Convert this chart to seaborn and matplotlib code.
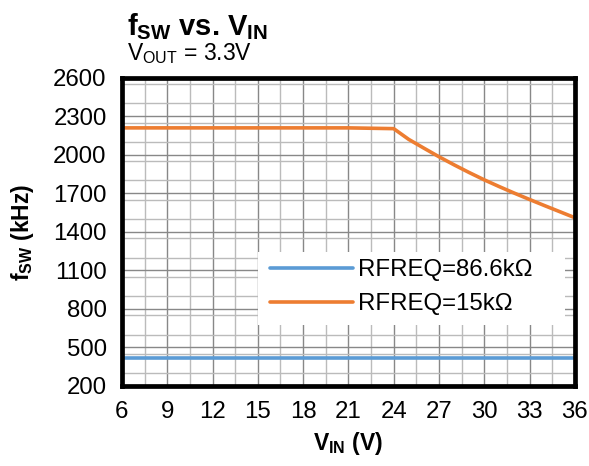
import matplotlib
matplotlib.use("Agg")
import matplotlib.pyplot as plt
from matplotlib.ticker import MultipleLocator
from matplotlib.patches import Rectangle
import seaborn as sns
import pandas as pd

# data
vin_flat = [6, 36]
fsw_86k6 = [415, 415]

vin_15k = [6, 9, 12, 15, 18, 21, 22, 23, 24, 25, 26, 27, 28, 29, 30, 31, 32, 33, 34, 35, 36]
fsw_15k = [2210, 2210, 2210, 2210, 2210, 2210, 2208, 2206, 2204, 2120, 2052, 1985, 1922,
           1862, 1805, 1752, 1701, 1652, 1604, 1557, 1510]

x_ticks = [6, 9, 12, 15, 18, 21, 24, 27, 30, 33, 36]
y_ticks = [200, 500, 800, 1100, 1400, 1700, 2000, 2300, 2600]

labels = ["RFREQ=86.6kΩ", "RFREQ=15kΩ"]
colors = ["#5B9BD5", "#ED7D31"]

df = pd.concat([
    pd.DataFrame({"vin": vin_flat, "fsw": fsw_86k6, "curve": labels[0]}),
    pd.DataFrame({"vin": vin_15k, "fsw": fsw_15k, "curve": labels[1]}),
])

sns.set_theme(style="white")
plt.rcParams["font.family"] = ["Liberation Sans", "DejaVu Sans"]
plt.rcParams["mathtext.fontset"] = "custom"
plt.rcParams["mathtext.rm"] = "Liberation Sans"
plt.rcParams["mathtext.it"] = "Liberation Sans"
plt.rcParams["mathtext.bf"] = "Liberation Sans:bold"
plt.rcParams["text.color"] = "black"
plt.rcParams["axes.labelcolor"] = "black"

fig = plt.figure(figsize=(5.89, 4.66), dpi=100)
ax = fig.add_axes([0.207, 0.172, 0.769, 0.661])

sns.lineplot(data=df, x="vin", y="fsw", hue="curve", palette=colors,
             linewidth=2.6, ax=ax, sort=False)

ax.set_xlim(6, 36)
ax.set_ylim(200, 2600)
ax.set_xticks(x_ticks)
ax.set_yticks(y_ticks)
ax.xaxis.set_minor_locator(MultipleLocator(1.5))
ax.yaxis.set_minor_locator(MultipleLocator(150))
ax.grid(which="major", color="#888888", linewidth=1.0)
ax.grid(which="minor", color="#bbbbbb", linewidth=1.0)
ax.set_axisbelow(True)
ax.tick_params(which="both", length=0, labelsize=17.3, pad=11, colors="black")

for s in ax.spines.values():
    s.set_visible(True)
    s.set_color("black")
    s.set_linewidth(3.4)

ax.set_xlabel(r"$\mathbf{V_{IN}}$ (V)", fontsize=16.5, fontweight="bold", labelpad=5)
ax.set_ylabel(r"$\mathbf{f_{SW}}$ (kHz)", fontsize=16.5, fontweight="bold", labelpad=12)

# white legend panel, wider on the right than the entries
ax.add_patch(Rectangle((0.300, 0.198), 0.678, 0.237, transform=ax.transAxes,
                       facecolor="white", edgecolor="none", zorder=3))
ax.legend(loc="upper left", bbox_to_anchor=(0.327, 0.412), fontsize=17.3,
          frameon=False, handlelength=3.45, handletextpad=0.2, borderpad=0,
          labelspacing=0.5, borderaxespad=0)

fig.text(0.216, 0.924, r"$\mathbf{f_{SW}}$ vs. $\mathbf{V_{IN}}$", fontsize=21,
         fontweight="bold", ha="left", va="baseline")
fig.text(0.216, 0.871, r"$\mathrm{V_{OUT}}$ = 3.3V", fontsize=16.5, ha="left", va="baseline")

fig.savefig("out.png", dpi=100)
